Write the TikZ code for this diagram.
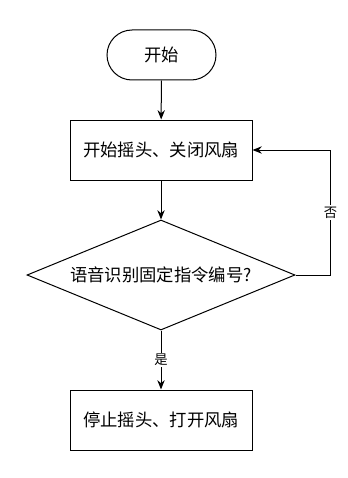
\documentclass[tikz,border=0pt]{standalone}
\usepackage{fontspec}
\setmainfont{Noto Sans CJK SC}
\usetikzlibrary{positioning, arrows.meta, shapes.geometric}

\tikzset{
  box/.style={draw, line width=0.75pt, minimum width=136.5pt, minimum height=45pt,
    inner sep=0pt, font=\fontsize{13}{15}\selectfont},
  terminal/.style={box, minimum width=81.75pt, minimum height=37.5pt, rounded corners=18.75pt},
  decision/.style={draw, diamond, line width=0.75pt, aspect=2.44, minimum width=201pt,
    minimum height=82.5pt, inner sep=0pt, font=\fontsize{13}{15}\selectfont},
  flow/.style={-{Stealth[length=7pt, width=5.5pt]}, line width=0.75pt},
  tag/.style={fill=white, inner sep=1pt, font=\fontsize{10}{12}\selectfont}
}

\begin{document}
\begin{tikzpicture}[x=0.75pt, y=-0.75pt]
  \useasboundingbox (0,0) rectangle (348,478);

  % nodes
  \node[terminal] (start) at (161.5,55) {开始};
  \node[box] (swing) at (161,150) {开始摇头、关闭风扇};
  \node[decision] (voice) at (161,275) {语音识别固定指令编号?};
  \node[box] (stop) at (161,420) {停止摇头、打开风扇};

  % connectors
  \draw[flow] (start) -- (swing);
  \draw[flow] (swing) -- (voice);
  \draw[flow] (voice) -- node[tag] {是} (stop);
  \draw[flow] (voice.east) -- ++(35,0) |- node[tag, pos=0.25] {否} (swing.east);
\end{tikzpicture}
\end{document}
